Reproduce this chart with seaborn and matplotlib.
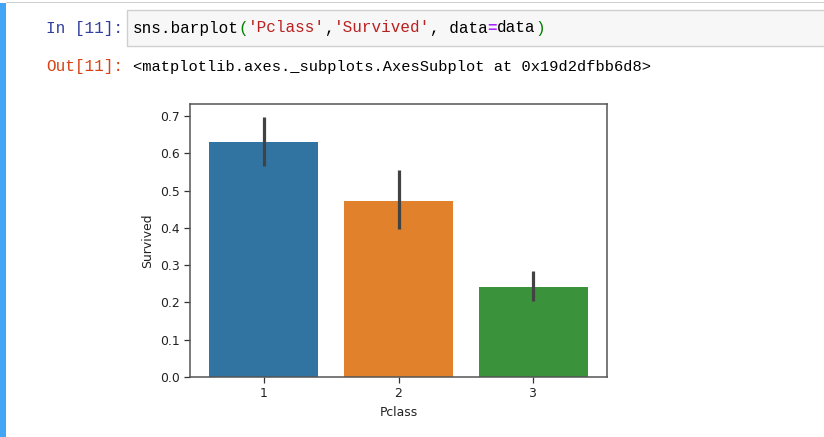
import matplotlib
matplotlib.use("Agg")
import matplotlib.pyplot as plt
from matplotlib.patches import Rectangle
import seaborn as sns
import pandas as pd

# ---- data ----
pclass = ["1", "2", "3"]
survived = [0.6296, 0.4728, 0.2424]
ci_low = [0.566, 0.396, 0.204]
ci_high = [0.697, 0.554, 0.285]
yticks = [0.0, 0.1, 0.2, 0.3, 0.4, 0.5, 0.6, 0.7]

prompt_in = "In [11]:"
prompt_out = "Out[11]:"
code_parts = [("sns.barplot", "#000000", "normal"), ("(", "#008000", "normal"),
              ("'Pclass'", "#BA2121", "normal"), (",", "#000000", "normal"),
              ("'Survived'", "#BA2121", "normal"), (", data", "#000000", "normal"),
              ("=", "#AA22FF", "bold"), ("data", "#000000", "normal"),
              (")", "#008000", "normal")]
out_text = "<matplotlib.axes._subplots.AxesSubplot at 0x19d2dfbb6d8>"

W, H = 824, 437
fig = plt.figure(figsize=(W / 100, H / 100), dpi=100)
fig.patch.set_facecolor("white")

def fx(x):
    return x / W

def fy(y):
    return 1 - y / H

# notebook chrome
fig.patches.append(Rectangle((0, 0), fx(6), fy(3), transform=fig.transFigure,
                             facecolor="#42A5F5", edgecolor="none"))
fig.patches.append(Rectangle((fx(6), fy(3)), 1, fy(1.5) - fy(3), transform=fig.transFigure,
                             facecolor="#cfcfcf", edgecolor="none"))
fig.patches.append(Rectangle((fx(127), fy(46)), fx(W + 10) - fx(127), fy(10) - fy(46),
                             transform=fig.transFigure, facecolor="#f7f7f7",
                             edgecolor="#cfcfcf", linewidth=1))

mono = "Liberation Mono"
fs = 11.5
cw = 0.6 * fs * 100 / 72  # char width px

fig.text(fx(123), fy(28), prompt_in, color="#303F9F", family=mono, fontsize=fs,
         ha="right", va="center")
fig.text(fx(123), fy(67), prompt_out, color="#D84315", family=mono, fontsize=fs,
         ha="right", va="center")
x = 133
for txt, col, wt in code_parts:
    fig.text(fx(x), fy(28), txt, color=col, family=mono, fontsize=fs,
             fontweight=wt, ha="left", va="center")
    x += cw * len(txt)
fig.text(fx(133), fy(67), out_text, color="#000000", family=mono, fontsize=11.1,
         ha="left", va="center")

# ---- chart ----
ax = fig.add_axes([fx(190), fy(377), fx(607) - fx(190), fy(104) - fy(377)])
df = pd.DataFrame({"Pclass": pclass, "Survived": survived})
sns.barplot(data=df, x="Pclass", y="Survived", hue="Pclass", palette="tab10",
            saturation=0.75, errorbar=None, legend=False, ax=ax, width=0.81)
ax.vlines(range(len(pclass)), ci_low, ci_high, color="#424242", linewidth=2.3)

ax.set_ylim(0, 0.732)
ax.set_yticks(yticks)
ax.set_yticklabels([f"{v:.1f}" for v in yticks])
ax.tick_params(labelsize=8.9, colors="#333333", length=4, width=0.9, labelcolor="#222222")
ax.set_xlabel("Pclass", fontsize=8.9, color="#222222")
ax.set_ylabel("Survived", fontsize=8.9, color="#222222")
for s in ax.spines.values():
    s.set_color("#555555")
    s.set_linewidth(1.1)

fig.savefig("out.png", dpi=100, facecolor="white")
